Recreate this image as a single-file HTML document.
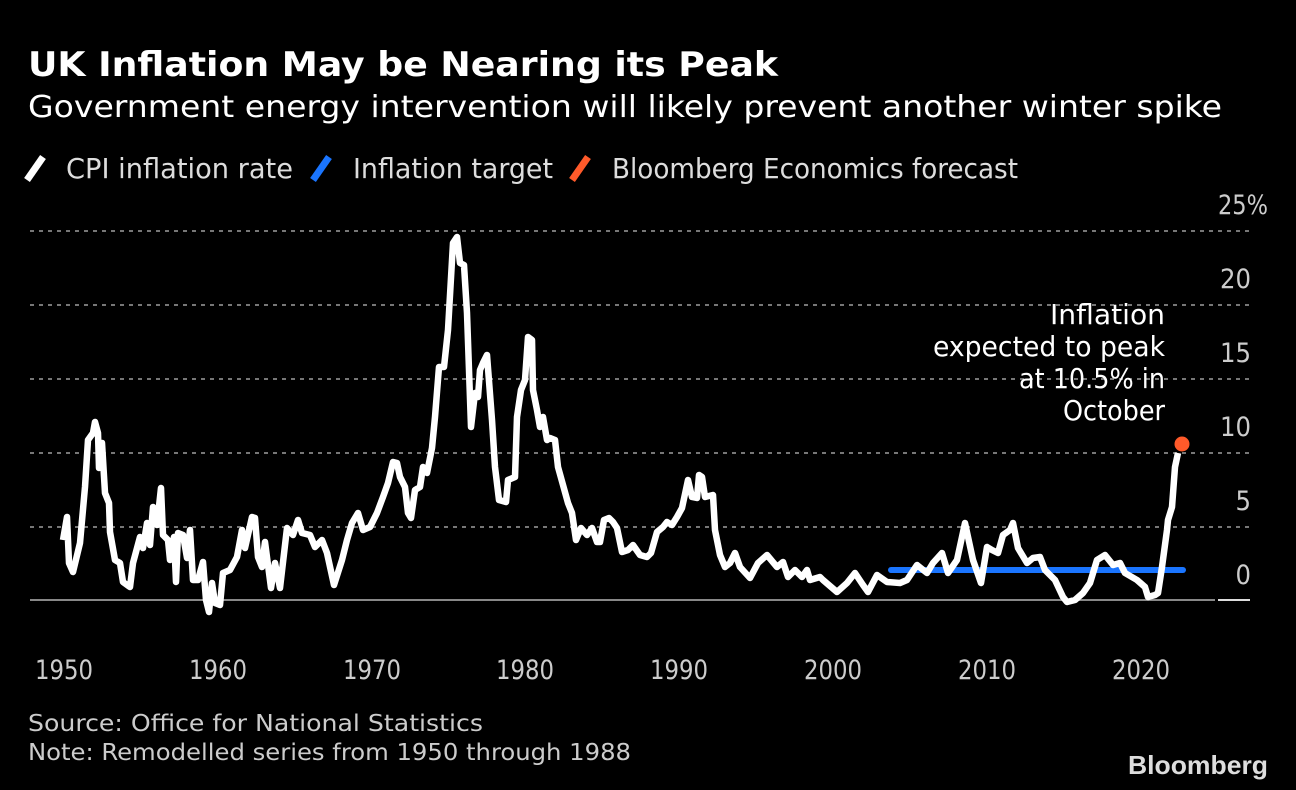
<!DOCTYPE html>
<html><head><meta charset="utf-8"><style>html,body{margin:0;padding:0;background:#000;}svg{display:block}</style></head>
<body>
<svg width="1296" height="790" viewBox="0 0 1296 790" xmlns="http://www.w3.org/2000/svg" font-family="'DejaVu Sans Condensed','Liberation Sans',sans-serif">
<rect width="1296" height="790" fill="#000"/>
<text x="28" y="76" fill="#fff" font-size="34" font-weight="bold" textLength="750" lengthAdjust="spacingAndGlyphs">UK Inflation May be Nearing its Peak</text>
<text x="28" y="117" fill="#fff" font-size="30" textLength="1194" lengthAdjust="spacingAndGlyphs">Government energy intervention will likely prevent another winter spike</text>
<g stroke-width="7" stroke-linecap="butt">
<line x1="27" y1="180" x2="43" y2="157" stroke="#fff"/>
<line x1="313" y1="180" x2="329" y2="157" stroke="#1a75ff"/>
<line x1="572" y1="180" x2="588" y2="157" stroke="#ff5a2a"/>
</g>
<g fill="#ddd" font-size="28">
<text x="66" y="178" textLength="227" lengthAdjust="spacingAndGlyphs">CPI inflation rate</text>
<text x="353" y="178" textLength="200" lengthAdjust="spacingAndGlyphs">Inflation target</text>
<text x="612" y="178" textLength="406" lengthAdjust="spacingAndGlyphs">Bloomberg Economics forecast</text>
</g>
<g stroke="#777" stroke-width="2" stroke-dasharray="4,5">
<line x1="30" y1="231" x2="1250" y2="231"/>
<line x1="30" y1="305" x2="1250" y2="305"/>
<line x1="30" y1="379" x2="1250" y2="379"/>
<line x1="30" y1="453" x2="1250" y2="453"/>
<line x1="30" y1="527" x2="1250" y2="527"/>
</g>
<line x1="30" y1="600" x2="1215" y2="600" stroke="#888" stroke-width="2"/>
<line x1="1218" y1="600" x2="1250" y2="600" stroke="#ddd" stroke-width="2"/>
<g fill="#ccc" font-size="27" text-anchor="end">
<text x="1268" y="214" textLength="50" lengthAdjust="spacingAndGlyphs">25%</text>
<text x="1251" y="288" textLength="31" lengthAdjust="spacingAndGlyphs">20</text>
<text x="1251" y="362" textLength="31" lengthAdjust="spacingAndGlyphs">15</text>
<text x="1251" y="436" textLength="31" lengthAdjust="spacingAndGlyphs">10</text>
<text x="1251" y="510">5</text>
<text x="1251" y="584">0</text>
</g>
<g fill="#ccc" font-size="27" text-anchor="middle">
<text x="64" y="679" textLength="58" lengthAdjust="spacingAndGlyphs">1950</text>
<text x="218" y="679" textLength="58" lengthAdjust="spacingAndGlyphs">1960</text>
<text x="372" y="679" textLength="58" lengthAdjust="spacingAndGlyphs">1970</text>
<text x="525" y="679" textLength="58" lengthAdjust="spacingAndGlyphs">1980</text>
<text x="679" y="679" textLength="58" lengthAdjust="spacingAndGlyphs">1990</text>
<text x="833" y="679" textLength="58" lengthAdjust="spacingAndGlyphs">2000</text>
<text x="987" y="679" textLength="58" lengthAdjust="spacingAndGlyphs">2010</text>
<text x="1141" y="679" textLength="58" lengthAdjust="spacingAndGlyphs">2020</text>
</g>
<line x1="891" y1="570" x2="1183" y2="570" stroke="#1a75ff" stroke-width="6" stroke-linecap="round"/>
<polyline fill="none" stroke="#fff" stroke-width="6.5" stroke-linejoin="round" points="63,540 67,517 69,563 73,572 80,543 85,487 88,440 93,433 95,422 98,433 99,468 102,443 105,493 109,503 110,532 115,560 120,563 123,582 130,587 133,563 140,537 143,548 147,523 150,545 153,507 157,525 161,488 163,535 168,540 170,560 174,537 176,582 178,533 183,535 187,558 190,530 193,580 198,580 203,562 206,600 209,612 212,583 215,603 220,605 223,573 230,570 237,557 242,530 245,548 252,517 255,518 258,557 262,567 265,542 271,588 275,563 280,588 287,528 293,535 298,520 302,533 310,535 315,547 322,540 327,553 334,585 342,560 347,540 352,523 358,513 363,530 370,527 377,513 383,497 388,483 393,462 397,463 400,477 405,487 408,513 411,518 415,490 420,487 423,467 427,473 432,448 435,417 439,367 444,367 448,330 453,243 457,237 460,263 464,265 467,313 471,427 475,393 478,397 480,370 483,363 487,355 492,420 495,467 499,500 506,502 508,480 515,477 517,417 521,390 525,380 528,337 532,340 533,390 537,410 540,427 543,417 547,440 550,438 555,440 558,467 568,503 572,513 576,540 581,528 587,535 592,528 597,542 600,542 604,520 609,518 613,522 617,528 622,552 628,550 633,545 640,555 647,557 651,553 657,532 663,527 667,522 672,525 677,517 682,508 688,480 692,497 697,498 699,475 702,477 705,497 713,495 715,530 720,555 725,567 730,563 735,553 740,567 750,578 758,563 767,555 777,567 783,562 788,577 795,570 802,577 807,570 810,580 820,577 823,580 837,592 847,583 855,573 863,585 868,592 877,575 887,582 900,583 907,580 917,565 927,573 933,563 942,553 948,573 957,560 965,523 973,560 981,583 987,547 992,550 998,553 1003,535 1010,530 1013,523 1018,548 1027,563 1033,558 1040,557 1045,570 1055,580 1063,597 1067,602 1075,600 1083,593 1090,583 1097,560 1105,555 1113,565 1120,563 1125,573 1137,580 1145,587 1148,597 1155,595 1158,593 1162,567 1167,530 1168,520 1172,507 1175,467 1178,453"/>
<circle cx="1182" cy="444" r="7.5" fill="#ff5a2a"/>
<g fill="#fff" font-size="28" text-anchor="end">
<text x="1165" y="324" textLength="115" lengthAdjust="spacingAndGlyphs">Inflation</text>
<text x="1165" y="356" textLength="232" lengthAdjust="spacingAndGlyphs">expected to peak</text>
<text x="1165" y="388" textLength="146" lengthAdjust="spacingAndGlyphs">at 10.5% in</text>
<text x="1165" y="420" textLength="102" lengthAdjust="spacingAndGlyphs">October</text>
</g>
<g fill="#ccc" font-size="23">
<text x="28" y="731" textLength="455" lengthAdjust="spacingAndGlyphs">Source: Office for National Statistics</text>
<text x="28" y="760" textLength="603" lengthAdjust="spacingAndGlyphs">Note: Remodelled series from 1950 through 1988</text>
</g>
<text x="1268" y="774" fill="#ddd" font-size="26" font-weight="bold" text-anchor="end" font-family="'Liberation Sans',sans-serif" textLength="140" lengthAdjust="spacingAndGlyphs">Bloomberg</text>
</svg>
</body></html>
